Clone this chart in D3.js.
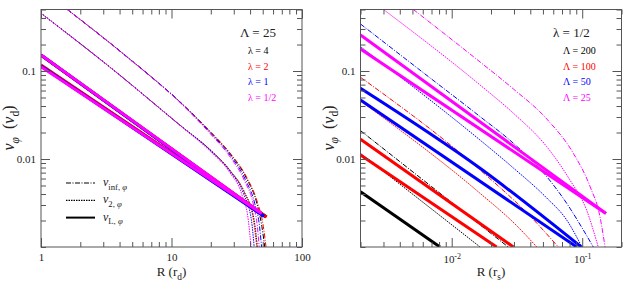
<!DOCTYPE html>
<html>
<head>
<meta charset="utf-8">
<script src="https://cdn.jsdelivr.net/npm/d3@7"></script>
<style>
  body { margin: 0; background: #fff; }
  text { font-family: "Liberation Serif", "DejaVu Serif", serif; fill: #222; }
  .tick text { font-size: 11px; }
</style>
</head>
<body>
<div id="chart"></div>
<script>
// ---- data ----
// series order everywhere: black, red, blue, magenta
const yDomain = [0.001, 0.5];
const yMajor = [0.01, 0.1];

const leftXDomain = [1, 100];
const leftXMajor = [1, 10, 100];
const rightXDomain = [0.002, 0.2];
const rightXMajor = [0.01, 0.1];
const rightXExp = ["-2", "-1"];

const leftLegend = ["λ = 4", "λ = 2", "λ = 1", "λ = 1/2"];
const rightLegend = ["Λ = 200", "Λ = 100", "Λ = 50", "Λ = 25"];

// left panel (Λ = 25): v_inf (dash-dot)
const leftInf = [
  [[1.59, 0.5], [4.48, 0.148], [12.7, 0.0393], [20.2, 0.0198], [28.5, 0.0112], [37.6, 0.0060], [45, 0.00316], [49.3, 0.0017], [51.8, 0.001]],
  [[1.59, 0.5], [4.48, 0.148], [12.7, 0.0393], [20.2, 0.0199], [28.6, 0.0113], [37.9, 0.0061], [45.6, 0.0032], [50.6, 0.0017], [53, 0.001]],
  [[1.59, 0.5], [4.48, 0.148], [12.7, 0.0392], [20.0, 0.0196], [28.2, 0.0110], [36.9, 0.0058], [43.5, 0.0031], [47.3, 0.0017], [49, 0.001]],
  [[1.59, 0.5], [4.48, 0.147], [12.6, 0.0390], [19.8, 0.0194], [27.8, 0.0108], [36.2, 0.0057], [42.5, 0.0030], [45.5, 0.0017], [47, 0.001]]
];
// left panel: v_2 (dotted)
const leftV2 = [
  [[1, 0.453], [3.38, 0.1105], [12, 0.0233], [19.8, 0.0127], [28.3, 0.0073], [36.2, 0.0042], [43, 0.002], [45.5, 0.001]],
  [[1, 0.453], [3.38, 0.1105], [12, 0.0233], [19.8, 0.0127], [28.3, 0.0073], [36, 0.0042], [42.5, 0.002], [45, 0.001]],
  [[1, 0.453], [3.38, 0.1105], [12, 0.0233], [19.7, 0.0127], [28.1, 0.0072], [35.5, 0.0041], [41, 0.002], [43, 0.001]],
  [[1, 0.452], [3.38, 0.1100], [12, 0.0231], [19.5, 0.0125], [27.8, 0.0071], [34.5, 0.0040], [38.8, 0.002], [40.7, 0.001]]
];
// left panel: v_L (thick solid), two per λ
const leftL = [
  [[[1, 0.151], [53, 0.0022]], [[1, 0.115], [53, 0.0022]]],
  [[[1, 0.151], [53.5, 0.00219]], [[1, 0.117], [53.5, 0.00219]]],
  [[[1, 0.152], [51.2, 0.00223]], [[1, 0.114], [51.2, 0.00223]]],
  [[[1, 0.152], [49, 0.00241]], [[1, 0.112], [49, 0.00241]]]
];

// right panel (λ = 1/2): v_inf (dash-dot)
const rightInf = [
  [[0.002, 0.021], [0.0271, 0.001]],
  [[0.002, 0.0848], [0.0165, 0.0075], [0.0398, 0.00225], [0.0656, 0.001]],
  [[0.002, 0.342], [0.00624, 0.0925], [0.0165, 0.0303], [0.0297, 0.0151], [0.0535, 0.0063], [0.076, 0.00314], [0.102, 0.00156], [0.1216, 0.001]],
  [[0.00508, 0.5], [0.0165, 0.1265], [0.0297, 0.0625], [0.0535, 0.0285], [0.0855, 0.0116], [0.115, 0.00484], [0.1368, 0.00221], [0.1496, 0.001]]
];
// right panel: v_2 (dotted)
const rightV2 = [
  [[0.002, 0.0116], [0.0165, 0.001]],
  [[0.002, 0.0456], [0.0165, 0.00407], [0.0306, 0.00182], [0.0449, 0.001]],
  [[0.002, 0.189], [0.0165, 0.0164], [0.0297, 0.0079], [0.0535, 0.0036], [0.076, 0.00203], [0.0995, 0.001]],
  [[0.003, 0.5], [0.0165, 0.0693], [0.0297, 0.0331], [0.0535, 0.0138], [0.0805, 0.00577], [0.108, 0.00263], [0.1327, 0.001]]
];
// right panel: v_L (thick solid)
const rightL = [
  [[[0.002, 0.00425], [0.00813, 0.001]]],
  [[[0.002, 0.01675], [0.0297, 0.001]], [[0.002, 0.0111], [0.0221, 0.001]]],
  [[[0.002, 0.0636], [0.0165, 0.00784], [0.0984, 0.001]], [[0.002, 0.0468], [0.0908, 0.001]]],
  [[[0.002, 0.256], [0.152, 0.00241]], [[0.002, 0.178], [0.152, 0.00241]]]
];

// ---- styles ----
const colors = ["#000000", "#ff0000", "#0000ff", "#ff00ff"];
const dashInf = "5,1.5,1,1.5";
const dashV2 = "1.5,1";

const svg = d3.select("#chart").append("svg").attr("width", 631).attr("height", 282);

const yBottom = 247, yTop = 9.5;
const y = d3.scaleLog().domain(yDomain).range([yBottom, yTop]);

// write text made of normal / italic / subscript parts
function rich(t, parts, size) {
  let shift = 0;
  parts.forEach((p) => {
    const target = p.sub ? size * 0.3 : p.sup ? -size * 0.42 : 0;
    t.append("tspan")
      .attr("dy", target - shift)
      .style("font-size", (p.sub || p.sup ? size * 0.72 : size) + "px")
      .style("font-style", p.it ? "italic" : "normal")
      .text(p.t);
    shift = target;
  });
}

function panel(opts) {
  const [x0, x1] = opts.range;
  const x = d3.scaleLog().domain(opts.domain).range(opts.range);
  const g = svg.append("g");

  const clipId = "clip" + opts.id;
  g.append("clipPath").attr("id", clipId)
    .append("rect").attr("x", x0).attr("y", yTop).attr("width", x1 - x0).attr("height", yBottom - yTop);

  const line = d3.line().x((d) => x(d[0])).y((d) => y(d[1])).curve(d3.curveMonotoneX);
  const plot = g.append("g").attr("clip-path", `url(#${clipId})`);

  // thin curves first, thick ones on top
  colors.forEach((c, i) => {
    plot.append("path").attr("d", line(opts.inf[i])).attr("fill", "none")
      .attr("stroke", c).attr("stroke-width", 1).attr("stroke-dasharray", dashInf);
    plot.append("path").attr("d", line(opts.v2[i])).attr("fill", "none")
      .attr("stroke", c).attr("stroke-width", 1).attr("stroke-dasharray", dashV2);
  });
  colors.forEach((c, i) => {
    opts.thick[i].forEach((s) => {
      plot.append("path").attr("d", line(s)).attr("fill", "none")
        .attr("stroke", c).attr("stroke-width", 3);
    });
  });

  // axes, ticks on all four sides pointing inwards
  const xMinor = x.ticks().filter((v) => !opts.major.some((m) => Math.abs(m - v) / m < 1e-6));
  const yMinor = y.ticks().filter((v) => !yMajor.some((m) => Math.abs(m - v) / m < 1e-6));

  const axes = g.append("g").attr("color", "#555");
  const bottom = axes.append("g").attr("transform", `translate(0,${yBottom})`)
    .call(d3.axisBottom(x).tickValues(opts.major).tickSize(-9).tickPadding(6).tickFormat(d3.format("")));
  axes.append("g").attr("transform", `translate(0,${yBottom})`)
    .call(d3.axisBottom(x).tickValues(xMinor).tickSize(-5).tickFormat(""));
  axes.append("g").attr("transform", `translate(0,${yTop})`)
    .call(d3.axisTop(x).tickValues(opts.major).tickSize(-9).tickFormat(""));
  axes.append("g").attr("transform", `translate(0,${yTop})`)
    .call(d3.axisTop(x).tickValues(xMinor).tickSize(-5).tickFormat(""));
  axes.append("g").attr("transform", `translate(${x0},0)`)
    .call(d3.axisLeft(y).tickValues(yMajor).tickSize(-9).tickPadding(5).tickFormat(d3.format("")));
  axes.append("g").attr("transform", `translate(${x0},0)`)
    .call(d3.axisLeft(y).tickValues(yMinor).tickSize(-5).tickFormat(""));
  axes.append("g").attr("transform", `translate(${x1},0)`)
    .call(d3.axisRight(y).tickValues(yMajor).tickSize(-9).tickFormat(""));
  axes.append("g").attr("transform", `translate(${x1},0)`)
    .call(d3.axisRight(y).tickValues(yMinor).tickSize(-5).tickFormat(""));
  axes.selectAll(".domain").remove();
  axes.selectAll("g").attr("font-family", null).attr("font-size", null);

  if (opts.exp) {
    bottom.selectAll(".tick text").each(function (d, i) {
      const t = d3.select(this).text("").attr("dy", "0.9em");
      t.append("tspan").text("10");
      t.append("tspan").attr("dy", "-0.45em").style("font-size", "8px").text(opts.exp[i]);
    });
  }

  g.append("rect").attr("x", x0).attr("y", yTop).attr("width", x1 - x0).attr("height", yBottom - yTop)
    .attr("fill", "none").attr("stroke", "#555").attr("stroke-width", 1);

  // axis titles
  const xt = g.append("text").attr("x", (x0 + x1) / 2).attr("y", 276).attr("text-anchor", "middle");
  rich(xt, [{ t: "R (r" }, { sub: true, t: opts.sub }, { t: ")" }], 13);

  const yt = g.append("text").attr("transform", `translate(${x0 - 27},128) rotate(-90)`)
    .attr("text-anchor", "middle").style("white-space", "pre");
  rich(yt, [{ t: "v", it: true }, { sub: true, it: true, t: "φ" }, { t: "  (" }, { t: "v", it: true }, { sub: true, t: "d" }, { t: ")" }], 16);

  // colour legend
  g.append("text").attr("x", opts.titleX).attr("y", 37).style("font-size", "13px").text(opts.title);
  opts.legend.forEach((s, i) => {
    g.append("text").attr("x", opts.legendX).attr("y", 54 + i * 15.6)
      .style("font-size", "10px").style("fill", colors[i]).text(s);
  });
  return x;
}

panel({
  id: "L", domain: leftXDomain, range: [41, 302], major: leftXMajor,
  inf: leftInf, v2: leftV2, thick: leftL, sub: "d",
  title: "Λ = 25", titleX: 240, legend: leftLegend, legendX: 248
});

panel({
  id: "R", domain: rightXDomain, range: [360.5, 621.5], major: rightXMajor,
  exp: rightXExp, inf: rightInf, v2: rightV2, thick: rightL, sub: "s",
  title: "λ = 1/2", titleX: 553, legend: rightLegend, legendX: 563
});

// line-style legend (left panel)
const styles = [
  { dash: dashInf, w: 1.2, label: [{ t: "v", it: true }, { sub: true, t: "inf, " }, { sub: true, it: true, t: "φ" }] },
  { dash: dashV2, w: 1.2, label: [{ t: "v", it: true }, { sub: true, t: "2, " }, { sub: true, it: true, t: "φ" }] },
  { dash: null, w: 2, label: [{ t: "v", it: true }, { sub: true, t: "L, " }, { sub: true, it: true, t: "φ" }] }
];
styles.forEach((s, i) => {
  const yy = 183 + i * 17.3;
  svg.append("line").attr("x1", 66).attr("x2", 95).attr("y1", yy).attr("y2", yy)
    .attr("stroke", "#000").attr("stroke-width", s.w).attr("stroke-dasharray", s.dash);
  const t = svg.append("text").attr("x", 103).attr("y", yy + 3);
  rich(t, s.label, 12);
});
</script>
</body>
</html>
